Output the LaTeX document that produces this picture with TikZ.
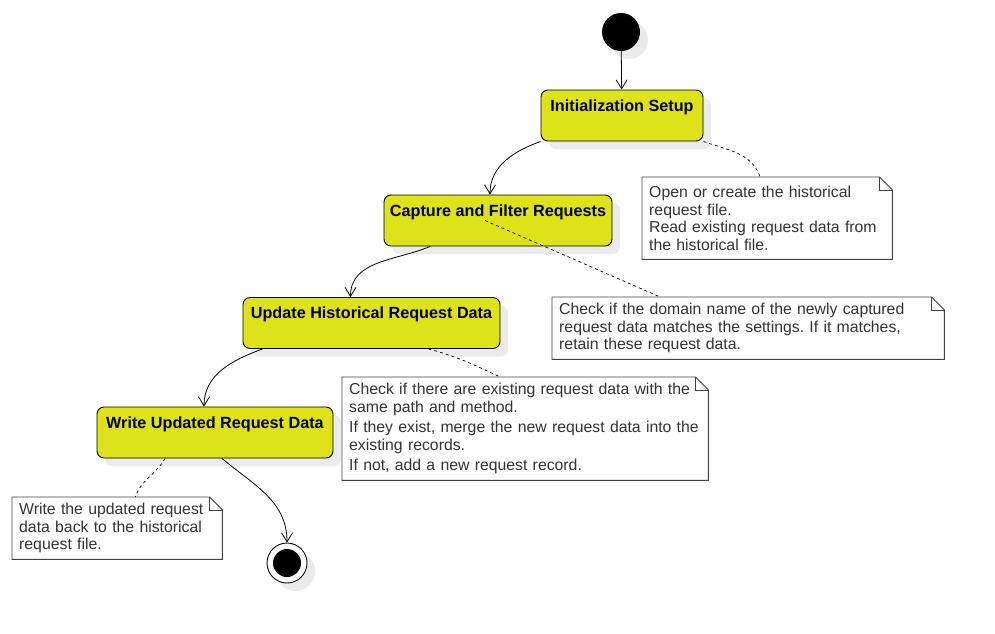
\documentclass[tikz,border=0pt]{standalone}
\usepackage{fontspec}
\setmainfont{Liberation Sans}
\usepackage{xcolor}
\usepackage{tikz}
\usetikzlibrary{arrows.meta,shadows,calc,positioning}
\definecolor{actyellow}{RGB}{222,226,25}
\definecolor{notetext}{RGB}{51,51,51}
\frenchspacing
\begin{document}
\begin{tikzpicture}[x=1pt, y=-1pt,
    act/.style={rectangle, rounded corners=7pt, draw=black, line width=0.9pt, fill=actyellow, inner xsep=0pt, inner ysep=5pt, text height=16pt, text depth=25pt, font=\bfseries\fontsize{16.2}{18}\selectfont, drop shadow={shadow xshift=8pt, shadow yshift=-8pt, fill=black!8, opacity=1}},
    note/.style={rectangle, fill=white, anchor=north west, inner xsep=7pt, inner ysep=0pt, align=left, text=notetext, font=\fontsize{15.8}{17.5}\selectfont},
    fold/.style={draw=black!75, line width=0.9pt},
    flow/.style={-{Straight Barb[length=9pt,width=11pt]}, line width=0.8pt},
    link/.style={dash pattern=on 3pt off 3pt, line width=0.7pt}
]
\useasboundingbox (0,0) rectangle (995,633);
% START AND END
\node[circle, fill=black, minimum size=38pt, inner sep=0pt, drop shadow={shadow xshift=8pt, shadow yshift=-8pt, fill=black!8, opacity=1}] (start) at (621,32) {};
\node[circle, draw=black, fill=white, line width=0.9pt, minimum size=40pt, inner sep=0pt, drop shadow={shadow xshift=8pt, shadow yshift=-8pt, fill=black!8, opacity=1}] (stop) at (287,563) {};
\node[circle, fill=black, minimum size=28pt, inner sep=0pt] (stopdot) at (stop) {};
% ACTIVITIES
\node[act, minimum width=162pt] (init) at (622,115.5) {Initialization Setup};
\node[act, minimum width=228pt] (cap) at (498,220.5) {Capture and Filter Requests};
\node[act, minimum width=257pt] (upd) at (371.5,323) {Update Historical Request Data};
\node[act, minimum width=236pt] (wrt) at (215,432.5) {Write Updated Request Data};
% NOTES
\node[note, text width=236pt, minimum height=82pt] (n1) at (642,177) {Open or create the historical\\request file.\\Read existing request data from\\the historical file.};
\node[note, text width=378pt, minimum height=62pt] (n2) at (552,297) {Check if the domain name of the newly captured\\request data matches the settings. If it matches,\\retain these request data.};
\node[note, text width=352pt, minimum height=103pt] (n3) at (342,377) {Check if there are existing request data with the\\same path and method.\\[3pt]If they exist, merge the new request data into the\\existing records.\\[3pt]If not, add a new request record.};
\node[note, text width=196pt, minimum height=62pt] (n4) at (12,497) {Write the updated request\\data back to the historical\\request file.};
\draw[fold] (n1.north west) -- ([xshift=-13pt]n1.north east) -- ([yshift=-13pt]n1.north east) -- (n1.south east) -- (n1.south west) -- cycle;
\draw[fold] ([xshift=-13pt]n1.north east) |- ([yshift=-13pt]n1.north east);
\draw[fold] (n2.north west) -- ([xshift=-13pt]n2.north east) -- ([yshift=-13pt]n2.north east) -- (n2.south east) -- (n2.south west) -- cycle;
\draw[fold] ([xshift=-13pt]n2.north east) |- ([yshift=-13pt]n2.north east);
\draw[fold] (n3.north west) -- ([xshift=-13pt]n3.north east) -- ([yshift=-13pt]n3.north east) -- (n3.south east) -- (n3.south west) -- cycle;
\draw[fold] ([xshift=-13pt]n3.north east) |- ([yshift=-13pt]n3.north east);
\draw[fold] (n4.north west) -- ([xshift=-13pt]n4.north east) -- ([yshift=-13pt]n4.north east) -- (n4.south east) -- (n4.south west) -- cycle;
\draw[fold] ([xshift=-13pt]n4.north east) |- ([yshift=-13pt]n4.north east);
% FLOW
\draw[flow] (start) -- (init);
\draw[flow] (init.south west) to[out=200, in=90] ([xshift=-8pt]cap.north);
\draw[flow] ([xshift=-68pt]cap.south) to[out=203, in=90] ([xshift=-21pt]upd.north);
\draw[flow] ([xshift=20pt]upd.south west) to[out=200, in=90] ([xshift=-11pt]wrt.north);
\draw[flow] ([xshift=7pt]wrt.south) to[out=-40, in=90] (stop.north);
% NOTE LINKS
\draw[link] (init.south east) to[out=-20, in=110] ([xshift=-7pt]n1.north);
\draw[link] ([xshift=-13pt]cap.center) -- ([xshift=-88pt]n2.north);
\draw[link] ([xshift=57pt]upd.south) to[out=-15, in=155] ([xshift=-25pt]n3.north);
\draw[link] ([xshift=-50pt]wrt.south) to[out=-120, in=70] ([xshift=18pt]n4.north);
\end{tikzpicture}
\end{document}
